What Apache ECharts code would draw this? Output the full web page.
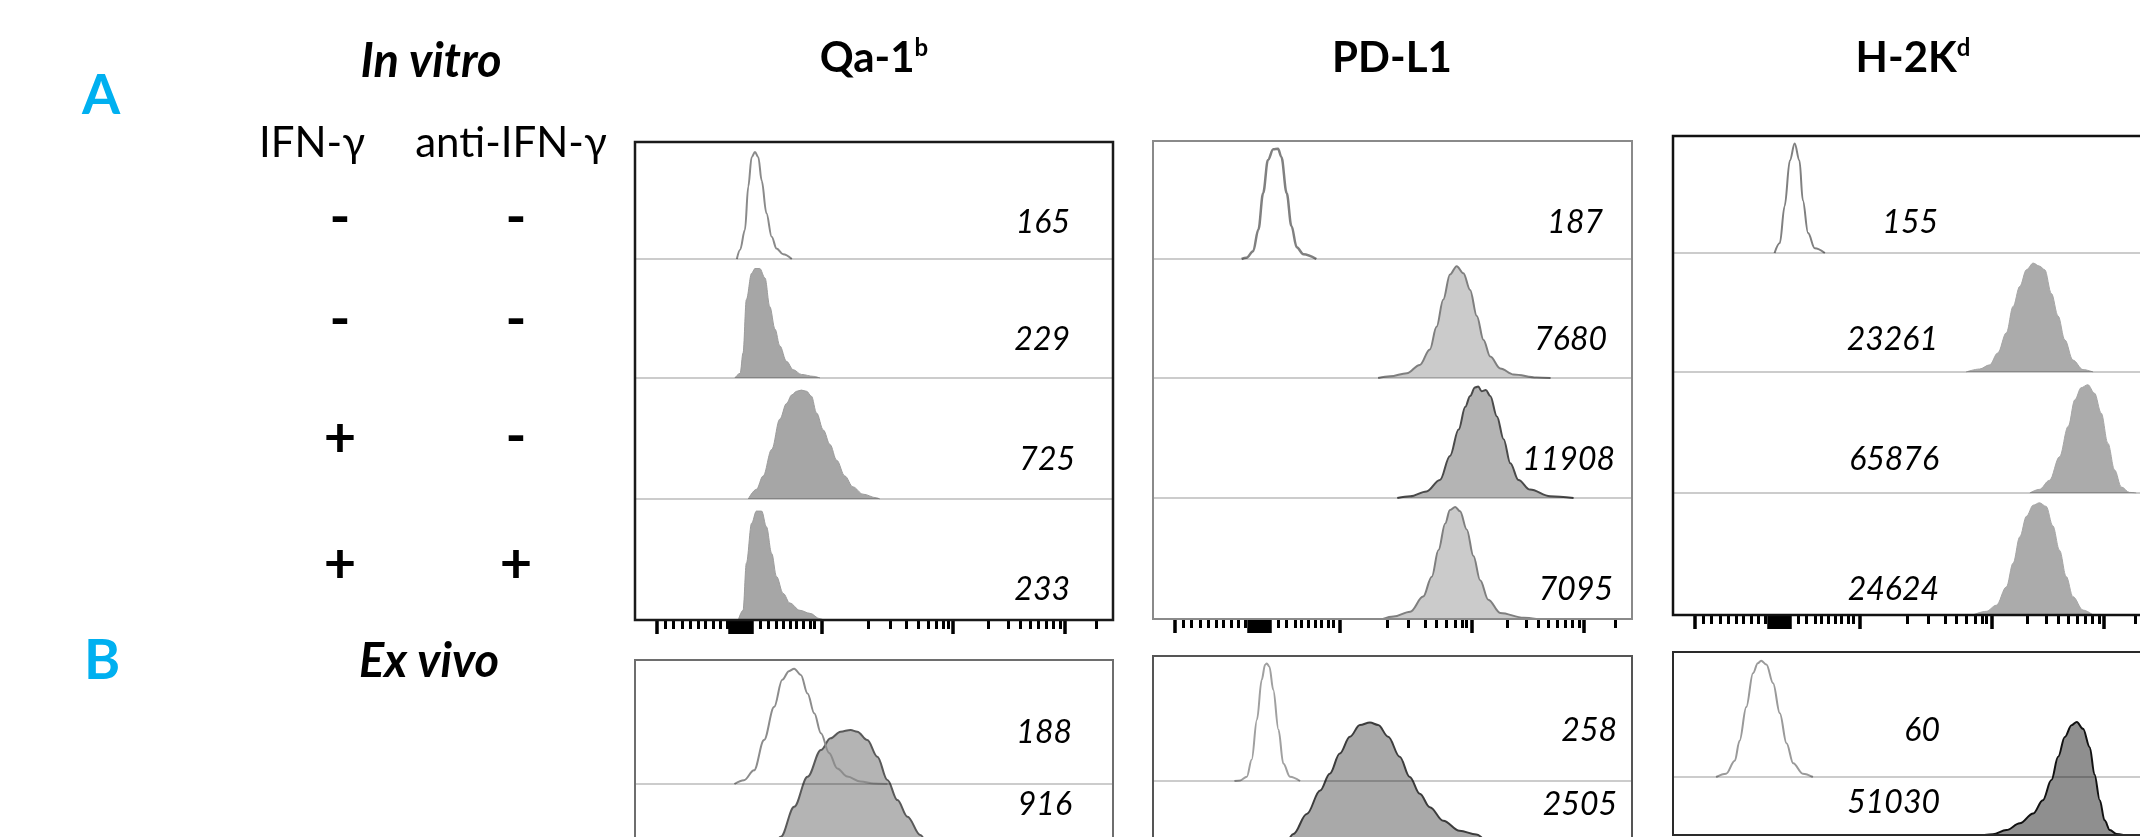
<!DOCTYPE html>
<html>
<head>
<meta charset="utf-8">
<script src="https://cdn.jsdelivr.net/npm/echarts@6/dist/echarts.min.js"></script>
<style>
  html, body { margin: 0; padding: 0; background: #fff; width: 2140px; height: 837px; overflow: hidden; }
  #main { width: 2170px; height: 912px; }
</style>
</head>
<body>
<div id="main"></div>
<script>
/* 标记名称 / 处理条件 */
var markers = ['Qa-1{s|b}', 'PD-L1', 'H-2K{s|d}'];
var ifnSigns = ['-', '-', '+', '+'];
var antiIfnSigns = ['-', '-', '-', '+'];

/* MFI 数值 */
var mfiQa1b = [165, 229, 725, 233];
var mfiPdl1 = [187, 7680, 11908, 7095];
var mfiH2kd = [155, 23261, 65876, 24624];
var mfiExQa1b = [188, 916];
var mfiExPdl1 = [258, 2505];
var mfiExH2kd = [60, 51030];

/* 直方图: x = 0-1000 显示通道, y = 行高的百分比 */
var qa1bRow1 = [[213,0],[220,8],[230,25],[237,62],[244,87],[251,91.5],[258,87],[265,67],[275,39],[286,19],[296,9],[310,4],[328,0]];
var qa1bRow2 = [[209,0],[220,4],[226,21],[233,66],[244,88],[251,92],[261,92],[272,84],[282,60],[293,41],[303,27],[317,14],[331,7],[348,3],[373,1.4],[387,0]];
var qa1bRow3 = [[237,0],[254,8],[268,19],[286,41],[303,66],[317,79],[328,86],[338,89],[348,90],[359,89],[369,85],[380,71],[394,57],[408,45],[422,32],[439,19],[456,10],[477,4],[505,1],[512,0]];
var qa1bRow4 = [[216,0],[226,8],[233,47],[244,80],[254,90],[265,90],[275,77],[286,55],[296,36],[310,22],[324,14],[345,8],[366,5.5],[387,1],[395,0]];

var pdl1Row1 = [[185,0],[195,1],[209,6.5],[220,25],[230,56],[240,84],[251,93],[261,93.5],[268,86.5],[279,56],[289,28],[300,10],[314,4],[341,0]];
var pdl1Row2 = [[470,0],[495,1.4],[530,4],[557,11],[578,24],[592,43],[606,66],[620,87],[634,94],[648,88],[662,74],[676,52],[690,32],[704,18],[725,8],[753,3],[801,0.5],[830,0]];
var pdl1Row3 = [[510,0],[537,1.4],[571,5.5],[599,15],[620,35],[638,57],[652,76],[662,85],[672,92],[679,93],[686,89],[695,90],[704,85],[718,68],[732,49],[746,29],[763,15],[787,7],[829,1.4],[878,0]];
var pdl1Row4 = [[480,0],[502,2],[537,6],[564,18.5],[582,35],[596,57],[610,79],[620,90],[631,92.5],[641,89],[655,74],[669,52],[683,32],[700,16],[725,5],[774,1],[800,0]];

var h2kdRow1 = [[212,0],[223,8.5],[233,40],[244,79],[254,93.5],[264,79],[271,45],[282,17],[296,4],[317,0]];
var h2kdRow2 = [[612,0],[640,2.5],[661,6],[678,16],[696,33],[710,55],[724,72],[738,86],[752,91.5],[765,89],[776,86],[790,66],[804,47],[818,27],[835,10],[856,2],[877,0]];
var h2kdRow3 = [[745,0],[765,3],[786,10.5],[807,30],[825,55],[839,77],[852,87],[866,89.5],[880,82.5],[894,66],[908,41],[922,19],[936,5],[953,0.5],[967,0]];
var h2kdRow4 = [[626,0],[654,3],[675,8],[696,23],[710,42.5],[724,64],[738,81],[752,90],[765,92],[779,89],[793,73],[807,53],[821,31.5],[835,15],[856,4],[877,0]];

/* ex vivo: 对照 (上半行), 肿瘤 (整个面板高度) */
var qa1bExCtrl = [[208,0],[228,3],[249,11],[270,35.5],[291,62],[308,84],[322,91],[333,93],[347,88],[361,73],[375,57],[389,41],[406,25],[423,12.6],[444,6],[472,2],[500,0.5],[528,0]];
var qa1bExTum = [[152,0],[180,1],[214,4],[249,10],[277,18],[305,28.7],[333,40.8],[361,52.9],[389,63.7],[409,68.4],[430,71.1],[451,71.8],[465,71.1],[486,67.7],[507,61],[528,51.6],[549,43.5],[570,36.8],[597,29.4],[625,20],[653,12],[688,5],[737,1.5],[792,0]];
var pdl1ExCtrl = [[170,0],[182,0.5],[196,3.5],[206,17],[217,49],[227,81],[234,93],[237.5,94],[243,91.5],[251,73],[262,41],[272,14],[286,3.5],[307,0]];
var pdl1ExTum = [[154,0],[182,1.5],[210,5],[237.5,12],[265,20],[293,28.8],[321,36.8],[349,46.2],[369,52.9],[390,61],[411,67.7],[432,72.4],[453,73.4],[470,72.4],[491,67.7],[515,59.7],[536,51.6],[557,44.9],[578,39.5],[606,34.1],[640,30.1],[675,28.6],[717,22],[772,14],[828,7],[890,2],[946,0]];
var h2kdExCtrl = [[90,0],[111,2.7],[129,13],[139,29],[153,56],[167,83],[177,91],[184,93],[195,90],[209,75],[223,51],[237,27],[251,11],[271,2.7],[292,0]];
var h2kdExTum = [[650,0],[668,0.4],[696,2.7],[724,6.4],[752,11.8],[772,19],[790,30],[804,42.7],[818,53.6],[832,60],[843,61.8],[856,58],[870,48],[880,33],[891,19],[901,8],[912,2.7],[926,0.5],[940,0]];

/* 双指数轴刻度位置 (0-1000) */
var minorTicks = [63, 80, 98, 115, 132, 146, 164, 178, 192, 261, 279, 296, 310, 324, 338, 352, 366, 376, 488, 533, 568, 592, 613, 631, 645, 655, 739, 780, 805, 826, 843, 861, 875, 889, 965];
var majorTicks = [45, 199, 204, 209, 214, 219, 224, 229, 234, 239, 244, 390, 665, 899];

var FONT = 'Lato, "Open Sans", sans-serif';

var panels = [
    {
        left: 635, width: 478, top: 142, base: [259, 378, 499, 620], frame: '#1a1a1a', frameW: 2.5, titleX: 874,
        rows: [
            {data: qa1bRow1, stroke: '#8a8a8a', w: 2},
            {data: qa1bRow2, fill: '#a6a6a6', stroke: '#9c9c9c', w: 1},
            {data: qa1bRow3, fill: '#a6a6a6', stroke: '#9c9c9c', w: 1},
            {data: qa1bRow4, fill: '#a6a6a6', stroke: '#9c9c9c', w: 1}
        ],
        mfi: mfiQa1b, labelX: [1070, 1070, 1075, 1070],
        ex: {top: 660, sep: 784, bottom: 908, frame: '#6e6e6e', ctrl: qa1bExCtrl, tum: qa1bExTum,
             ctrlColor: '#8c8c8c', tumFill: '#b4b4b4', tumStroke: '#595959', mfi: mfiExQa1b, labelX: 1072, labelY: [745, 817]}
    },
    {
        left: 1153, width: 479, top: 141, base: [259, 378, 498, 619], frame: '#8a8a8a', frameW: 2, titleX: 1392,
        rows: [
            {data: pdl1Row1, stroke: '#808080', w: 2.5},
            {data: pdl1Row2, fill: '#cbcbcb', stroke: '#7f7f7f', w: 2},
            {data: pdl1Row3, fill: '#b4b4b4', stroke: '#4a4a4a', w: 2},
            {data: pdl1Row4, fill: '#cbcbcb', stroke: '#7f7f7f', w: 2}
        ],
        mfi: mfiPdl1, labelX: [1603, 1607, 1615, 1613],
        ex: {top: 656, sep: 781, bottom: 906, frame: '#555555', ctrl: pdl1ExCtrl, tum: pdl1ExTum,
             ctrlColor: '#a0a0a0', tumFill: '#a9a9a9', tumStroke: '#3c3c3c', mfi: mfiExPdl1, labelX: 1617, labelY: [743, 817]}
    },
    {
        left: 1673, width: 479, top: 136, base: [253, 372, 493, 615], frame: '#111111', frameW: 2.5, titleX: 1913,
        rows: [
            {data: h2kdRow1, stroke: '#808080', w: 2},
            {data: h2kdRow2, fill: '#ababab', stroke: '#a6a6a6', w: 1},
            {data: h2kdRow3, fill: '#ababab', stroke: '#a6a6a6', w: 1},
            {data: h2kdRow4, fill: '#ababab', stroke: '#a6a6a6', w: 1}
        ],
        mfi: mfiH2kd, labelX: [1938, 1938, 1939, 1939],
        ex: {top: 652, sep: 777, bottom: 835, frame: '#2a2a2a', ctrl: h2kdExCtrl, tum: h2kdExTum,
             ctrlColor: '#9a9a9a', tumFill: '#8f8f8f', tumStroke: '#111111', mfi: mfiExH2kd, labelX: 1940, labelY: [743, 815]}
    }
];
var labelBase = [235, 352, 472, 602];   // 数字基线

var grids = [], xAxes = [], yAxes = [], series = [], texts = [];

function hiddenX(gi, extra) {
    var ax = {
        gridIndex: gi, type: 'value', min: 0, max: 1000, position: 'bottom',
        axisLine: {show: false, onZero: false}, axisTick: {show: false},
        axisLabel: {show: false}, splitLine: {show: false}
    };
    for (var k in extra) ax[k] = extra[k];
    xAxes.push(ax);
    return xAxes.length - 1;
}
function hiddenY(gi) {
    yAxes.push({gridIndex: gi, type: 'value', min: 0, max: 100, show: false});
    return yAxes.length - 1;
}
var sepLine = {show: true, onZero: false, lineStyle: {color: 'rgba(0,0,0,0.2)', width: 2}};

function curve(xi, yi, data, fill, stroke, w, z) {
    var s = {
        type: 'line', xAxisIndex: xi, yAxisIndex: yi, data: data,
        smooth: 0.35, smoothMonotone: 'x', symbol: 'none', silent: true, z: z,
        lineStyle: {color: stroke, width: w}
    };
    if (fill) s.areaStyle = {color: fill, opacity: 1, origin: 'start'};
    series.push(s);
}

function frame(left, top, width, height, color, w) {
    grids.push({left: left, top: top, width: width, height: height, show: true,
                borderColor: color, borderWidth: w, backgroundColor: 'rgba(0,0,0,0)', z: 10});
    var gi = grids.length - 1;
    hiddenX(gi, {show: false});
    hiddenY(gi);
}

function label(txt, x, y, font, align) {
    texts.push({
        type: 'text', x: x, y: y, silent: true,
        style: {text: txt, fill: '#000', font: font,
                textAlign: align || 'center', align: align || 'center',
                textVerticalAlign: 'middle', verticalAlign: 'middle'}
    });
}

panels.forEach(function (p, pi) {
    /* in vitro: 4 行 */
    p.rows.forEach(function (r, ri) {
        var top = ri === 0 ? p.top : p.base[ri - 1];
        grids.push({left: p.left, top: top, width: p.width, height: p.base[ri] - top});
        var gi = grids.length - 1;
        var xi, yi = hiddenY(gi);
        if (ri < 3) {
            xi = hiddenX(gi, {axisLine: sepLine, z: 5});
        } else {
            xi = hiddenX(gi, {axisTick: {show: true, inside: false, customValues: minorTicks, length: 9, lineStyle: {color: '#000', width: 3}}});
            hiddenX(gi, {axisTick: {show: true, inside: false, customValues: majorTicks, length: 14, lineStyle: {color: '#000', width: 3.5}}});
        }
        curve(xi, yi, r.data, r.fill, r.stroke, r.w, 2);
        label(String(p.mfi[ri]), p.labelX[ri], labelBase[ri] - 12.5, 'italic 400 32px ' + FONT, 'right');
    });
    frame(p.left, p.top, p.width, p.base[3] - p.top, p.frame, p.frameW);

    /* ex vivo */
    var e = p.ex;
    grids.push({left: p.left, top: e.top, width: p.width, height: e.bottom - e.top});
    var gT = grids.length - 1;
    var xT = hiddenX(gT), yT = hiddenY(gT);
    curve(xT, yT, e.tum, e.tumFill, e.tumStroke, 2, 2);

    grids.push({left: p.left, top: e.top, width: p.width, height: e.sep - e.top});
    var gC = grids.length - 1;
    var xC = hiddenX(gC, {axisLine: sepLine, z: 5}), yC = hiddenY(gC);
    curve(xC, yC, e.ctrl, null, e.ctrlColor, 2, 4);

    frame(p.left, e.top, p.width, e.bottom - e.top, e.frame, 2);
    label(String(e.mfi[0]), e.labelX, e.labelY[0] - 12.5, 'italic 400 32px ' + FONT, 'right');
    label(String(e.mfi[1]), e.labelX, e.labelY[1] - 12.5, 'italic 400 32px ' + FONT, 'right');

    /* 标题 */
    texts.push({
        type: 'text', x: p.titleX, y: 58, silent: true,
        style: {text: markers[pi], fill: '#000', font: 'bold 42px ' + FONT,
                textAlign: 'center', align: 'center', textVerticalAlign: 'middle', verticalAlign: 'middle',
                rich: {s: {fontSize: 24, fontWeight: 'bold', fontFamily: FONT, fill: '#000', padding: [0, 0, 20, 0]}}}
    });
});

/* 左侧文字 */
texts.push({type: 'text', x: 101, y: 96, silent: true,
    style: {text: 'A', fill: '#00b0f0', font: 'bold 55px ' + FONT, textAlign: 'center', align: 'center', textVerticalAlign: 'middle', verticalAlign: 'middle'}});
texts.push({type: 'text', x: 102, y: 661, silent: true,
    style: {text: 'B', fill: '#00b0f0', font: 'bold 55px ' + FONT, textAlign: 'center', align: 'center', textVerticalAlign: 'middle', verticalAlign: 'middle'}});
label('In vitro', 431, 62, 'italic bold 47px ' + FONT);
label('Ex vivo', 429, 662, 'italic bold 47px ' + FONT);
label('IFN-\u03b3', 312, 143, '400 42px ' + FONT);
label('anti-IFN-\u03b3', 511, 143, '400 42px ' + FONT);

var signRowY = [223, 325, 442, 568];
ifnSigns.forEach(function (s, i) {
    label(s, 340, signRowY[i] - (s === '-' ? 5 : 3), 'bold 56px ' + FONT);
});
antiIfnSigns.forEach(function (s, i) {
    label(s, 516, signRowY[i] - (s === '-' ? 5 : 3), 'bold 56px ' + FONT);
});

var chart = echarts.init(document.getElementById('main'));
chart.setOption({
    animation: false,
    backgroundColor: '#fff',
    grid: grids,
    xAxis: xAxes,
    yAxis: yAxes,
    series: series,
    graphic: {elements: texts}
});
</script>
</body>
</html>
